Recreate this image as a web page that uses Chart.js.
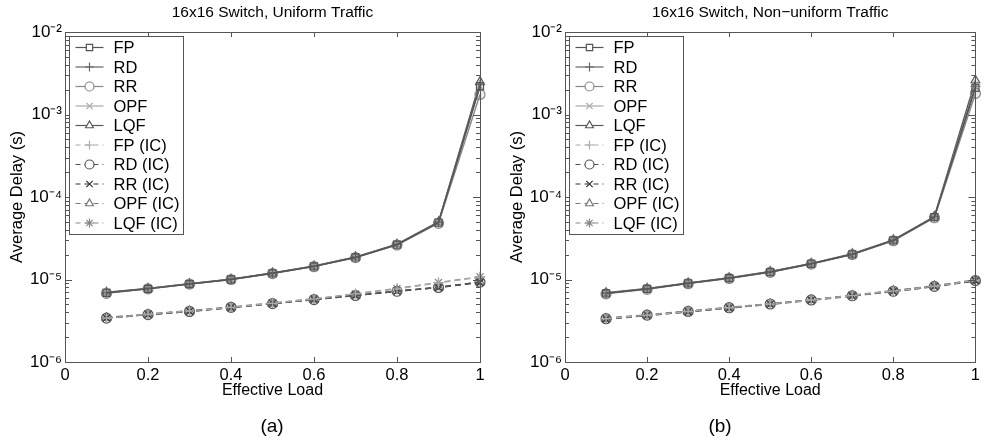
<!DOCTYPE html>
<html>
<head>
<meta charset="utf-8">
<script src="https://cdn.jsdelivr.net/npm/chart.js@4"></script>
<style>
  body { margin: 0; background: #fff; width: 984px; height: 444px; position: relative; overflow: hidden;
         font-family: "Liberation Sans", Arial, sans-serif; }
  .panel { position: absolute; top: 0; height: 444px; }
  #left { left: 0; width: 492px; }
  #right { left: 500px; width: 484px; }
  .cap { position: absolute; top: 415px; width: 60px; text-align: center; font-size: 19px; color: #000; }
</style>
</head>
<body>
<div class="panel" id="left"><canvas id="chartA" width="492" height="444"></canvas></div>
<div class="panel" id="right"><canvas id="chartB" width="484" height="444"></canvas></div>
<div class="cap" style="left:242px">(a)</div>
<div class="cap" style="left:690px">(b)</div>

<script>
// effective load (x)
const loads = [0.1, 0.2, 0.3, 0.4, 0.5, 0.6, 0.7, 0.8, 0.9, 1.0];

const seriesLabels = ["FP", "RD", "RR", "OPF", "LQF", "FP (IC)", "RD (IC)", "RR (IC)", "OPF (IC)", "LQF (IC)"];

// (a) uniform traffic, average delay in seconds
const uniFP    = [6.9e-6, 7.7e-6, 8.8e-6, 1.00e-5, 1.19e-5, 1.44e-5, 1.85e-5, 2.64e-5, 4.9e-5, 2.2e-3];
const uniRD    = [6.9e-6, 7.8e-6, 8.9e-6, 1.01e-5, 1.20e-5, 1.45e-5, 1.87e-5, 2.66e-5, 4.95e-5, 2.3e-3];
const uniRR    = [6.8e-6, 7.7e-6, 8.8e-6, 1.00e-5, 1.18e-5, 1.43e-5, 1.84e-5, 2.62e-5, 4.8e-5, 1.75e-3];
const uniOPF   = [6.9e-6, 7.7e-6, 8.8e-6, 1.00e-5, 1.19e-5, 1.44e-5, 1.86e-5, 2.65e-5, 4.9e-5, 2.2e-3];
const uniLQF   = [7.0e-6, 7.8e-6, 8.9e-6, 1.01e-5, 1.20e-5, 1.46e-5, 1.88e-5, 2.68e-5, 5.0e-5, 2.5e-3];
const uniFPic  = [3.4e-6, 3.8e-6, 4.15e-6, 4.6e-6, 5.15e-6, 5.8e-6, 6.7e-6, 7.7e-6, 9.1e-6, 1.07e-5];
const uniRDic  = [3.4e-6, 3.75e-6, 4.1e-6, 4.6e-6, 5.1e-6, 5.7e-6, 6.4e-6, 7.2e-6, 8.0e-6, 9.3e-6];
const uniRRic  = [3.4e-6, 3.75e-6, 4.1e-6, 4.55e-6, 5.1e-6, 5.7e-6, 6.4e-6, 7.2e-6, 8.0e-6, 9.2e-6];
const uniOPFic = [3.45e-6, 3.8e-6, 4.15e-6, 4.6e-6, 5.1e-6, 5.75e-6, 6.45e-6, 7.25e-6, 8.1e-6, 9.3e-6];
const uniLQFic = [3.45e-6, 3.8e-6, 4.2e-6, 4.65e-6, 5.2e-6, 5.85e-6, 6.7e-6, 7.8e-6, 9.2e-6, 1.08e-5];

// (b) non-uniform traffic
const nuFP    = [6.8e-6, 7.7e-6, 9.0e-6, 1.04e-5, 1.23e-5, 1.55e-5, 2.02e-5, 2.98e-5, 5.7e-5, 2.1e-3];
const nuRD    = [6.8e-6, 7.7e-6, 9.0e-6, 1.04e-5, 1.24e-5, 1.56e-5, 2.03e-5, 3.0e-5, 5.75e-5, 2.2e-3];
const nuRR    = [6.7e-6, 7.6e-6, 8.9e-6, 1.03e-5, 1.22e-5, 1.54e-5, 2.0e-5, 2.95e-5, 5.6e-5, 1.8e-3];
const nuOPF   = [6.8e-6, 7.7e-6, 9.0e-6, 1.04e-5, 1.23e-5, 1.55e-5, 2.02e-5, 2.98e-5, 5.7e-5, 2.2e-3];
const nuLQF   = [6.9e-6, 7.8e-6, 9.1e-6, 1.05e-5, 1.25e-5, 1.57e-5, 2.05e-5, 3.02e-5, 5.8e-5, 2.6e-3];
const nuFPic  = [3.35e-6, 3.7e-6, 4.1e-6, 4.55e-6, 5.05e-6, 5.65e-6, 6.4e-6, 7.25e-6, 8.3e-6, 9.8e-6];
const nuRDic  = [3.35e-6, 3.7e-6, 4.1e-6, 4.55e-6, 5.05e-6, 5.65e-6, 6.35e-6, 7.2e-6, 8.25e-6, 9.7e-6];
const nuRRic  = [3.3e-6, 3.65e-6, 4.05e-6, 4.5e-6, 5.0e-6, 5.6e-6, 6.3e-6, 7.15e-6, 8.2e-6, 9.6e-6];
const nuOPFic = [3.35e-6, 3.7e-6, 4.1e-6, 4.55e-6, 5.05e-6, 5.65e-6, 6.4e-6, 7.3e-6, 8.35e-6, 9.85e-6];
const nuLQFic = [3.4e-6, 3.75e-6, 4.15e-6, 4.6e-6, 5.1e-6, 5.7e-6, 6.45e-6, 7.35e-6, 8.4e-6, 9.9e-6];

// axis ticks
const xTickValues = [0, 0.2, 0.4, 0.6, 0.8, 1];
const xTickLabels = ["0", "0.2", "0.4", "0.6", "0.8", "1"];
const yTickValues = [1e-6, 1e-5, 1e-4, 1e-3, 1e-2];
const yTickLabels = ["10\u207B\u2076", "10\u207B\u2075", "10\u207B\u2074", "10\u207B\u00B3", "10\u207B\u00B2"];

const styles = [
  { color: "#555", dash: [], point: "rect" },
  { color: "#666", dash: [], point: "cross" },
  { color: "#888", dash: [], point: "circle" },
  { color: "#aaa", dash: [], point: "crossRot" },
  { color: "#5a5a5a", dash: [], point: "triangle" },
  { color: "#aaa", dash: [6, 4], point: "cross" },
  { color: "#555", dash: [6, 4], point: "circle" },
  { color: "#333", dash: [6, 4], point: "crossRot" },
  { color: "#777", dash: [6, 4], point: "triangle" },
  { color: "#888", dash: [6, 4], point: "star" },
];

const FONT = "'Liberation Sans', Arial, sans-serif";

// matlab-like box, inward ticks, title and legend inside the axes
const matlabAxes = {
  id: "matlabAxes",
  afterDatasetsDraw(chart, args, opts) {
    const { ctx, chartArea: a } = chart;
    const x = chart.scales.x, y = chart.scales.y;
    ctx.save();
    ctx.strokeStyle = "#555";
    ctx.lineWidth = 1;
    ctx.setLineDash([]);
    ctx.beginPath();
    xTickValues.forEach((v) => {
      const px = Math.round(x.getPixelForValue(v)) + 0.5;
      ctx.moveTo(px, a.bottom); ctx.lineTo(px, a.bottom - 5);
      ctx.moveTo(px, a.top); ctx.lineTo(px, a.top + 5);
    });
    for (let e = -6; e <= -2; e++) {
      for (let m = 1; m < 10; m++) {
        const v = m * Math.pow(10, e);
        if (v > 1.0001e-2) break;
        const py = Math.round(y.getPixelForValue(v)) + 0.5;
        const len = m === 1 ? 7 : 4;
        ctx.moveTo(a.left, py); ctx.lineTo(a.left + len, py);
        ctx.moveTo(a.right, py); ctx.lineTo(a.right - len, py);
      }
    }
    ctx.stroke();
    ctx.strokeRect(Math.round(a.left) + 0.5, Math.round(a.top) + 0.5,
                   Math.round(a.right - a.left), Math.round(a.bottom - a.top));

    // title
    ctx.fillStyle = "#000";
    ctx.font = "15.5px " + FONT;
    ctx.textAlign = "center";
    ctx.textBaseline = "middle";
    ctx.fillText(opts.title, (a.left + a.right) / 2, 13);

    // legend
    const bx = Math.round(a.left) + 4.5, by = Math.round(a.top) + 4.5;
    const bw = 114, bh = 198;
    ctx.fillStyle = "#fff";
    ctx.fillRect(bx, by, bw, bh);
    ctx.strokeStyle = "#555";
    ctx.strokeRect(bx, by, bw, bh);
    chart.data.datasets.forEach((ds, i) => {
      const ly = by + 11 + i * 19.5;
      ctx.strokeStyle = ds.borderColor;
      ctx.lineWidth = 1.2;
      ctx.setLineDash(ds.borderDash.length ? [5, 4] : []);
      ctx.beginPath();
      ctx.moveTo(bx + 6, ly); ctx.lineTo(bx + 34, ly);
      ctx.stroke();
      ctx.setLineDash([]);
      ctx.fillStyle = "#fff";
      Chart.helpers.drawPoint(ctx, { pointStyle: ds.pointStyle, rotation: 0, radius: 4.5, borderWidth: 1 }, bx + 20, ly);
      ctx.fillStyle = "#000";
      ctx.font = "16.5px " + FONT;
      ctx.textAlign = "left";
      ctx.textBaseline = "middle";
      ctx.fillText(ds.label, bx + 44, ly + 1);
    });
    ctx.restore();
  },
};

function makeChart(id, title, seriesData, padRight) {
  const datasets = seriesData.map((vals, i) => ({
    label: seriesLabels[i],
    data: loads.map((l, k) => ({ x: l, y: vals[k] })),
    borderColor: styles[i].color,
    borderDash: styles[i].dash,
    borderWidth: 1.4,
    pointStyle: styles[i].point,
    pointRadius: 5,
    pointBorderWidth: 1.2,
    pointBorderColor: styles[i].color,
    pointBackgroundColor: "rgba(110,110,110,0.12)",
    tension: 0,
    clip: false,
  }));

  return new Chart(document.getElementById(id), {
    type: "line",
    data: { datasets },
    plugins: [matlabAxes],
    options: {
      responsive: false,
      animation: false,
      layout: { padding: { top: 32, right: padRight, bottom: 44, left: 0 } },
      plugins: {
        legend: { display: false },
        tooltip: { enabled: false },
        matlabAxes: { title },
      },
      scales: {
        x: {
          type: "linear",
          min: 0,
          max: 1,
          afterBuildTicks: (s) => { s.ticks = xTickValues.map((v) => ({ value: v })); },
          afterFit: (s) => { s.height = 38; },
          ticks: {
            color: "#000", padding: 4, font: { family: FONT, size: 16.5 }, autoSkip: false, maxRotation: 0,
            callback: (v) => {
              const i = xTickValues.findIndex((t) => Math.abs(t - v) < 1e-6);
              return i >= 0 ? xTickLabels[i] : "";
            },
          },
          grid: { display: false, drawTicks: false },
          border: { display: false },
          title: { display: true, text: "Effective Load", color: "#000", font: { family: FONT, size: 16 }, padding: { top: 0, bottom: 0 } },
        },
        y: {
          type: "logarithmic",
          min: 1e-6,
          max: 1e-2,
          afterBuildTicks: (s) => { s.ticks = yTickValues.map((v) => ({ value: v })); },
          afterFit: (s) => { s.width = 65; },
          ticks: {
            color: "#000",
            padding: 3,
            autoSkip: false,
            font: { family: FONT, size: 17 },
            callback: (v) => {
              const i = yTickValues.findIndex((t) => Math.abs(Math.log10(t) - Math.log10(v)) < 0.01);
              return i >= 0 ? yTickLabels[i] : "";
            },
          },
          grid: { display: false, drawTicks: false },
          border: { display: false },
          title: { display: true, text: "Average Delay (s)", color: "#000", font: { family: FONT, size: 16.5 }, padding: { top: 8, bottom: 0 } },
        },
      },
    },
  });
}

makeChart("chartA", "16x16 Switch, Uniform Traffic",
  [uniFP, uniRD, uniRR, uniOPF, uniLQF, uniFPic, uniRDic, uniRRic, uniOPFic, uniLQFic], 12);
makeChart("chartB", "16x16 Switch, Non\u2212uniform Traffic",
  [nuFP, nuRD, nuRR, nuOPF, nuLQF, nuFPic, nuRDic, nuRRic, nuOPFic, nuLQFic], 4);
</script>
</body>
</html>
